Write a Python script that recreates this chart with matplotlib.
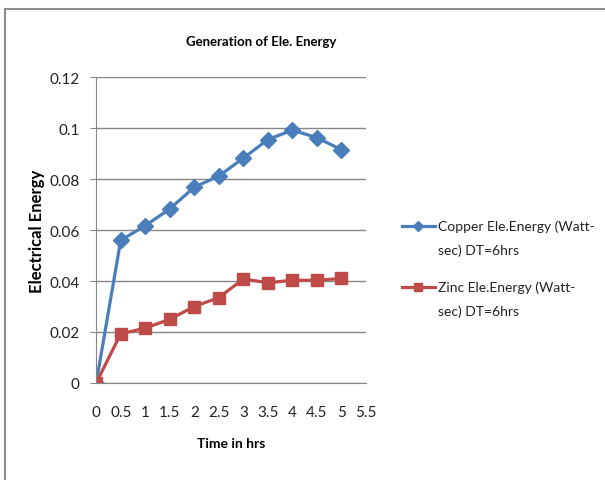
import matplotlib.pyplot as plt
from matplotlib.patches import Rectangle
from matplotlib.lines import Line2D

plt.rcParams['font.family'] = ['Lato', 'DejaVu Sans']

time_hrs = [0, 0.5, 1, 1.5, 2, 2.5, 3, 3.5, 4, 4.5, 5]
copper = [0, 0.056, 0.0617, 0.0683, 0.0768, 0.0812, 0.0882, 0.0955, 0.0992, 0.0962, 0.0915]
zinc = [0, 0.0193, 0.0215, 0.0250, 0.0300, 0.0335, 0.0408, 0.0393, 0.0403, 0.0403, 0.0410]

x_ticks = [0, 0.5, 1, 1.5, 2, 2.5, 3, 3.5, 4, 4.5, 5, 5.5]
x_ticklabels = ["0", "0.5", "1", "1.5", "2", "2.5", "3", "3.5", "4", "4.5", "5", "5.5"]
y_ticks = [0, 0.02, 0.04, 0.06, 0.08, 0.1, 0.12]
y_ticklabels = ["0", "0.02", "0.04", "0.06", "0.08", "0.1", "0.12"]

series_names = [("Copper Ele.Energy (Watt-", "sec) DT=6hrs"),
                ("Zinc Ele.Energy (Watt-", "sec) DT=6hrs")]
blue = '#4a7ebb'
red = '#be4b48'

fig = plt.figure(figsize=(6.05, 4.81), dpi=100)
ax = fig.add_axes([0.159, 0.2017, 0.446, 0.636])

# outer chart frame
fig.add_artist(Rectangle((0.009, -0.05), 1.2, 1.03, transform=fig.transFigure,
                         fill=False, edgecolor='#8c8c8c', linewidth=1.5))

ax.plot(time_hrs, copper, color=blue, linewidth=2.3, marker='D', markersize=8, zorder=3)
ax.plot(time_hrs, zinc, color=red, linewidth=2.3, marker='s', markersize=9, zorder=3)

ax.set_xlim(0, 5.5)
ax.set_ylim(0, 0.12)
ax.set_xticks(x_ticks)
ax.set_xticklabels(x_ticklabels)
ax.set_yticks(y_ticks)
ax.set_yticklabels(y_ticklabels)
ax.tick_params(axis='both', labelsize=11, length=0, colors='#222222')
ax.tick_params(axis='x', pad=16)
ax.tick_params(axis='y', length=4, pad=8, color='#868686', direction='out')

ax.yaxis.grid(True, color='#868686', linewidth=1)
ax.set_axisbelow(True)
for side in ['top', 'right']:
    ax.spines[side].set_visible(False)
ax.spines['left'].set_color('#868686')
ax.spines['bottom'].set_color('#868686')
ax.spines['left'].set_zorder(4)
ax.spines['bottom'].set_zorder(4)

ax.set_xlabel("Time in hrs", fontsize=10, fontweight='bold', labelpad=13)
ax.set_ylabel("Electrical Energy", fontsize=12, fontweight='bold', labelpad=3)
fig.text(0.432, 0.912, "Generation of Ele. Energy", fontsize=9.5, fontweight='bold',
         ha='center', va='center')

# legend, drawn by hand so the key sits on the first text line
legend_rows = [(0.528, blue, 'D', 5), (0.401, red, 's', 6)]
for (y, c, m, ms), (line1, line2) in zip(legend_rows, series_names):
    fig.add_artist(Line2D([0.664, 0.719], [y, y], transform=fig.transFigure,
                          color=c, linewidth=2.3))
    fig.add_artist(Line2D([0.6915], [y], transform=fig.transFigure,
                          color=c, marker=m, markersize=ms, linestyle='none'))
    fig.text(0.724, y, line1, fontsize=10, va='center', ha='left', color='#222222')
    fig.text(0.724, y - 0.049, line2, fontsize=10, va='center', ha='left', color='#222222')

fig.savefig("out.png", dpi=100)
